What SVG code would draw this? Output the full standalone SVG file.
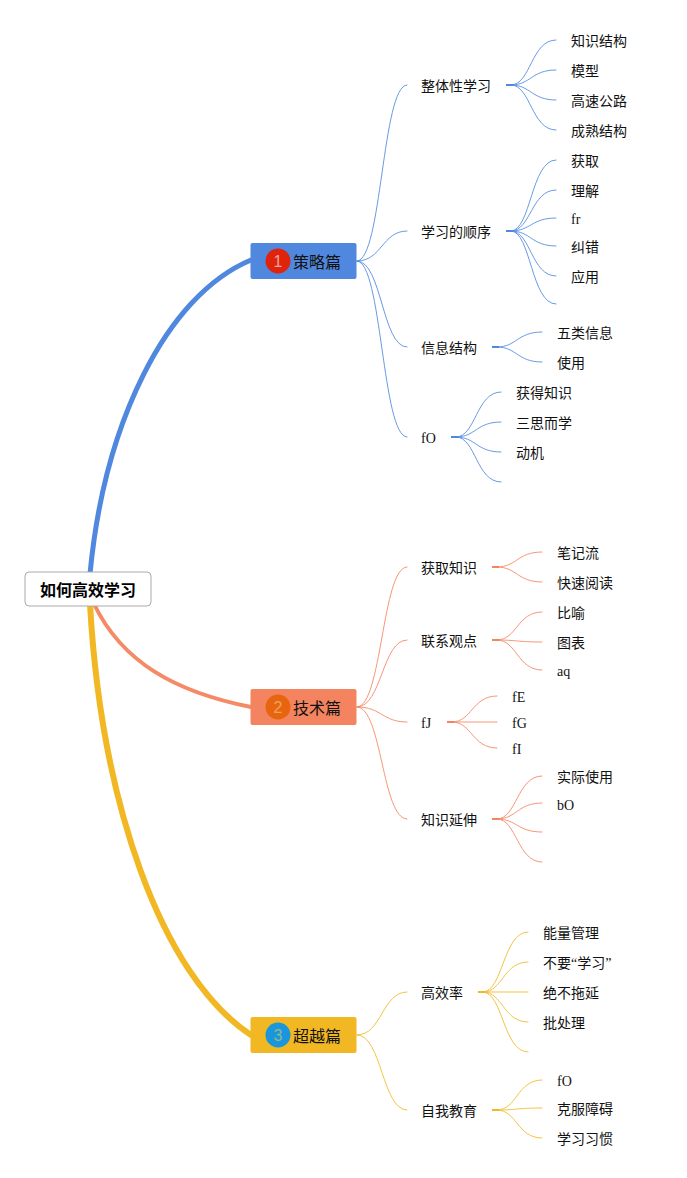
<svg xmlns="http://www.w3.org/2000/svg" width="687" height="1178" viewBox="0 0 687 1178">
<style>
text{font-family:"Liberation Serif","Noto Sans CJK SC",serif;font-size:14px;fill:#111}
.t16{font-size:16px}
.root{font-size:16px;font-weight:700;fill:#000;text-anchor:middle}
.n{font-family:"Liberation Sans",sans-serif;font-size:16px;text-anchor:middle}
path{fill:none;stroke-linecap:round}
.b{stroke:#4f88de}.r{stroke:#f4845f}.y{stroke:#f2b824}
.thin path{stroke-width:1;stroke-opacity:.85}
.thin path.s{stroke-width:2;stroke-opacity:1;stroke-linecap:butt}
</style>
<rect width="687" height="1178" fill="#fff"/>
<g id="connectors">
<path class="b" stroke-width="5" d="M90 574C104 425 165 296 251 260"/>
<path class="r" stroke-width="4" stroke-opacity=".95" d="M94 604C122 662 175 692 251 707"/>
<path class="y" stroke-width="6" d="M90 604C101 800 160 975 251 1035"/>
<g class="thin b">
<path d="M357 261C382 261 382 85 407 85"/><path d="M357 261C382 261 382 231 407 231"/><path d="M357 261C382 261 382 347 407 347"/><path d="M357 261C382 261 382 437 407 437"/>
<path class="s" d="M506 85H513"/><path d="M511 85C531 85 531 40 556 40"/><path d="M511 85C531 85 531 70 556 70"/><path d="M511 85C531 85 531 100 556 100"/><path d="M511 85C531 85 531 130 556 130"/>
<path class="s" d="M506 231H513"/><path d="M511 231C531 231 531 160 556 160"/><path d="M511 231C531 231 531 190 556 190"/><path d="M511 231C531 231 531 218 556 218"/><path d="M511 231C531 231 531 246 556 246"/><path d="M511 231C531 231 531 276 556 276"/><path d="M511 231C531 231 531 304 556 304"/>
<path class="s" d="M492 347H499"/><path d="M497 347C517 347 517 332 542 332"/><path d="M497 347C517 347 517 362 542 362"/>
<path class="s" d="M451 437H458"/><path d="M456 437C476 437 476 392 501 392"/><path d="M456 437C476 437 476 422 501 422"/><path d="M456 437C476 437 476 452 501 452"/><path d="M456 437C476 437 476 482 501 482"/>
</g>
<g class="thin r">
<path d="M357 707C382 707 382 567 407 567"/><path d="M357 707C382 707 382 640 407 640"/><path d="M357 707C382 707 382 722 407 722"/><path d="M357 707C382 707 382 819 407 819"/>
<path class="s" d="M492 567H499"/><path d="M497 567C517 567 517 552 542 552"/><path d="M497 567C517 567 517 582 542 582"/>
<path class="s" d="M492 640H499"/><path d="M497 640C517 640 517 612 542 612"/><path d="M497 640C517 640 517 642 542 642"/><path d="M497 640C517 640 517 670 542 670"/>
<path class="s" d="M447 722H454"/><path d="M452 722C472 722 472 696 497 696"/><path d="M452 722H497"/><path d="M452 722C472 722 472 748 497 748"/>
<path class="s" d="M492 819H499"/><path d="M497 819C517 819 517 776 542 776"/><path d="M497 819C517 819 517 803 542 803"/><path d="M497 819C517 819 517 832 542 832"/><path d="M497 819C517 819 517 862 542 862"/>
</g>
<g class="thin y">
<path d="M357 1035C382 1035 382 992 407 992"/><path d="M357 1035C382 1035 382 1110 407 1110"/>
<path class="s" d="M478 992H485"/><path d="M483 992C503 992 503 932 528 932"/><path d="M483 992C503 992 503 962 528 962"/><path d="M483 992H528"/><path d="M483 992C503 992 503 1022 528 1022"/><path d="M483 992C503 992 503 1052 528 1052"/>
<path class="s" d="M492 1110H499"/><path d="M497 1110C517 1110 517 1080 542 1080"/><path d="M497 1110C517 1110 517 1108 542 1108"/><path d="M497 1110C517 1110 517 1138 542 1138"/>
</g>
</g>
<g id="root"><rect x="25" y="572" width="126" height="34" rx="4" fill="#fff" stroke="#aaa"/><text class="root" x="88" y="596">如何高效学习</text></g>
<g id="n1"><rect x="250.5" y="243" width="106" height="36" rx="2" fill="#4f88de"/><circle cx="278" cy="261" r="12.5" fill="#e0230b"/><text class="n" x="278" y="267" style="fill:#e8a8a0">1</text><text class="t16" x="293" y="268">策略篇</text></g>
<g id="n2"><rect x="250.5" y="689" width="106" height="36" rx="2" fill="#f4845f"/><circle cx="278" cy="707" r="12.5" fill="#e8650f"/><text class="n" x="278" y="713" style="fill:#f2a060">2</text><text class="t16" x="293" y="714">技术篇</text></g>
<g id="n3"><rect x="250.5" y="1017" width="106" height="36" rx="2" fill="#f2b824"/><circle cx="278" cy="1035" r="12.5" fill="#1a96dc"/><text class="n" x="278" y="1041" style="fill:#8cb890">3</text><text class="t16" x="293" y="1042">超越篇</text></g>
<g id="labels">
<text x="421" y="91">整体性学习</text><text x="571" y="46">知识结构</text><text x="571" y="76">模型</text><text x="571" y="106">高速公路</text><text x="571" y="136">成熟结构</text>
<text x="421" y="237">学习的顺序</text><text x="571" y="166">获取</text><text x="571" y="196">理解</text><text x="571" y="224">fr</text><text x="571" y="252">纠错</text><text x="571" y="282">应用</text>
<text x="421" y="353">信息结构</text><text x="557" y="338">五类信息</text><text x="557" y="368">使用</text>
<text x="421" y="443">fO</text><text x="516" y="398">获得知识</text><text x="516" y="428">三思而学</text><text x="516" y="458">动机</text>
<text x="421" y="573">获取知识</text><text x="557" y="558">笔记流</text><text x="557" y="588">快速阅读</text>
<text x="421" y="646">联系观点</text><text x="557" y="618">比喻</text><text x="557" y="648">图表</text><text x="557" y="676">aq</text>
<text x="421" y="728">fJ</text><text x="512" y="702">fE</text><text x="512" y="728">fG</text><text x="512" y="754">fI</text>
<text x="421" y="825">知识延伸</text><text x="557" y="782">实际使用</text><text x="557" y="810">bO</text>
<text x="421" y="998">高效率</text><text x="543" y="938">能量管理</text><text x="543" y="968">不要“学习”</text><text x="543" y="998">绝不拖延</text><text x="543" y="1028">批处理</text>
<text x="421" y="1116">自我教育</text><text x="557" y="1086">fO</text><text x="557" y="1114">克服障碍</text><text x="557" y="1144">学习习惯</text>
</g>
</svg>
